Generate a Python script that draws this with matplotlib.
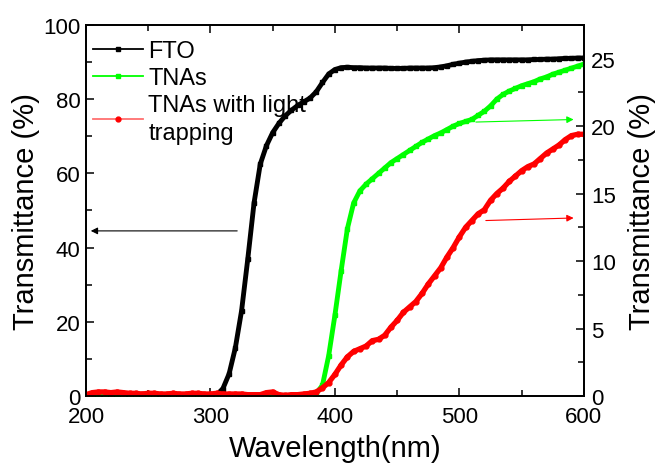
import numpy as np
import matplotlib
matplotlib.use('Agg')
import matplotlib.pyplot as plt
from matplotlib.ticker import MultipleLocator

plt.rcParams['font.family'] = ['Liberation Sans', 'DejaVu Sans']

# wavelength grid (nm), 5 nm steps
wl = np.arange(200, 605, 5)

# FTO transmittance (%), left axis
fto = [0.0] * 21 + [
    0.3, 2.0, 6.0, 13.0, 23.0, 37.0, 52.0, 62.5, 67.5, 71.0,
    73.5, 75.5, 77.0, 78.3, 79.3, 80.3, 82.0, 84.5, 86.8, 88.0,
    88.5, 88.6, 88.5, 88.5, 88.4, 88.4, 88.4, 88.4, 88.3, 88.3,
    88.3, 88.4, 88.4, 88.4, 88.4, 88.5, 88.7, 89.0, 89.4, 89.7,
    90.0, 90.2, 90.4, 90.5, 90.6, 90.6, 90.6, 90.6, 90.6, 90.6,
    90.6, 90.7, 90.7, 90.8, 90.8, 90.9, 91.0, 91.0, 91.1, 91.1]

# TNAs transmittance (%), right axis
tnas = [0.0] * 36 + [
    0.05, 0.2, 0.8, 3.0, 6.0, 9.3, 12.4, 14.3, 15.2, 15.7,
    16.1, 16.5, 16.9, 17.3, 17.6, 17.9, 18.2, 18.5, 18.8, 19.05,
    19.3, 19.5, 19.75, 20.0, 20.2, 20.35, 20.5, 20.8, 21.1, 21.5,
    22.0, 22.35, 22.6, 22.8, 23.0, 23.15, 23.3, 23.5, 23.65, 23.85,
    24.0, 24.15, 24.3, 24.45, 24.6]

# TNAs with light trapping (%), right axis
tnas_lt = [
    0.1, 0.25, 0.3, 0.3, 0.25, 0.3, 0.25, 0.2, 0.2, 0.15,
    0.2, 0.2, 0.15, 0.15, 0.2, 0.15, 0.15, 0.2, 0.2, 0.15,
    0.15, 0.2, 0.15, 0.15, 0.15, 0.15, 0.1, 0.1, 0.1, 0.25,
    0.3, 0.1, 0.05, 0.1, 0.1, 0.15, 0.2, 0.3, 0.6, 1.0,
    1.6, 2.3, 2.9, 3.3, 3.5, 3.7, 4.1, 4.2, 4.5, 5.1,
    5.6, 6.2, 6.6, 7.0, 7.6, 8.3, 8.9, 9.5, 10.3, 11.0,
    11.8, 12.5, 13.0, 13.5, 13.8, 14.5, 15.0, 15.4, 15.9, 16.3,
    16.7, 17.0, 17.2, 17.6, 18.0, 18.3, 18.6, 19.0, 19.3, 19.4,
    19.4]

labels = ['FTO', 'TNAs', 'TNAs with light\ntrapping']

# arrows: (start x, start y) -> (end x, end y)
arrow_fto = ((323.7, 44.5), (201.6, 44.5))
arrow_tnas = ((511.0, 20.3), (594.0, 20.5))
arrow_lt = ((519.0, 13.0), (594.0, 13.2))

fig = plt.figure(figsize=(6.59, 4.64), dpi=100)
ax = fig.add_axes([0.1305, 0.1444, 0.7555, 0.7996])
ax2 = ax.twinx()

l1, = ax.plot(wl, fto, color='black', marker='s', ms=3.5, lw=3.5, label=labels[0])
l2, = ax2.plot(wl, tnas, color='#00ff00', marker='s', ms=3.5, lw=3.5, label=labels[1])
l3, = ax2.plot(wl, tnas_lt, color='#ff0000', marker='o', ms=3.5, lw=3.8, label=labels[2])

ax.set_xlim(200, 600)
ax.set_ylim(0, 100)
ax2.set_ylim(0, 27.5)

ax.xaxis.set_major_locator(MultipleLocator(100))
ax.xaxis.set_minor_locator(MultipleLocator(50))
ax.yaxis.set_major_locator(MultipleLocator(20))
ax.yaxis.set_minor_locator(MultipleLocator(10))
ax2.yaxis.set_major_locator(MultipleLocator(5))
ax2.yaxis.set_minor_locator(MultipleLocator(2.5))

for a in (ax, ax2):
    a.tick_params(which='both', direction='in', width=1.1, labelsize=16)
    a.tick_params(which='major', length=6)
    a.tick_params(which='minor', length=4)
    for s in a.spines.values():
        s.set_linewidth(1.3)
ax.tick_params(which='both', top=True, right=False)
ax.tick_params(axis='x', pad=7)
ax.tick_params(axis='y', pad=4)
ax2.tick_params(axis='y', pad=5)

ax.set_xlabel('Wavelength(nm)', fontsize=21, labelpad=5)
ax.set_ylabel('Transmittance (%)', fontsize=21, labelpad=2)
ax2.set_ylabel('Transmittance (%)', fontsize=21, labelpad=9)

ax.annotate('', xy=arrow_fto[1], xytext=arrow_fto[0],
            arrowprops=dict(arrowstyle='-|>', color='black', lw=0.8, mutation_scale=10))
ax2.annotate('', xy=arrow_tnas[1], xytext=arrow_tnas[0],
             arrowprops=dict(arrowstyle='-|>', color='#00ff00', lw=0.8, mutation_scale=10))
ax2.annotate('', xy=arrow_lt[1], xytext=arrow_lt[0],
             arrowprops=dict(arrowstyle='-|>', color='#ff0000', lw=0.8, mutation_scale=10))

leg = ax2.legend([l1, l2, l3], labels, loc='upper left', frameon=False, fontsize=17,
                 handlelength=2.1, handletextpad=0.25, labelspacing=0.22,
                 bbox_to_anchor=(0.014, 0.96), borderaxespad=0, borderpad=0)
for t in leg.get_texts():
    t.set_linespacing(1.35)
for ln in leg.get_lines():
    ln.set_linewidth(1.3)
leg.get_lines()[2].set_color('#ff7070')
leg.get_lines()[2].set_markerfacecolor('#ff0000')
leg.get_lines()[2].set_markeredgecolor('#ff0000')

fig.savefig('out.png', dpi=100)
